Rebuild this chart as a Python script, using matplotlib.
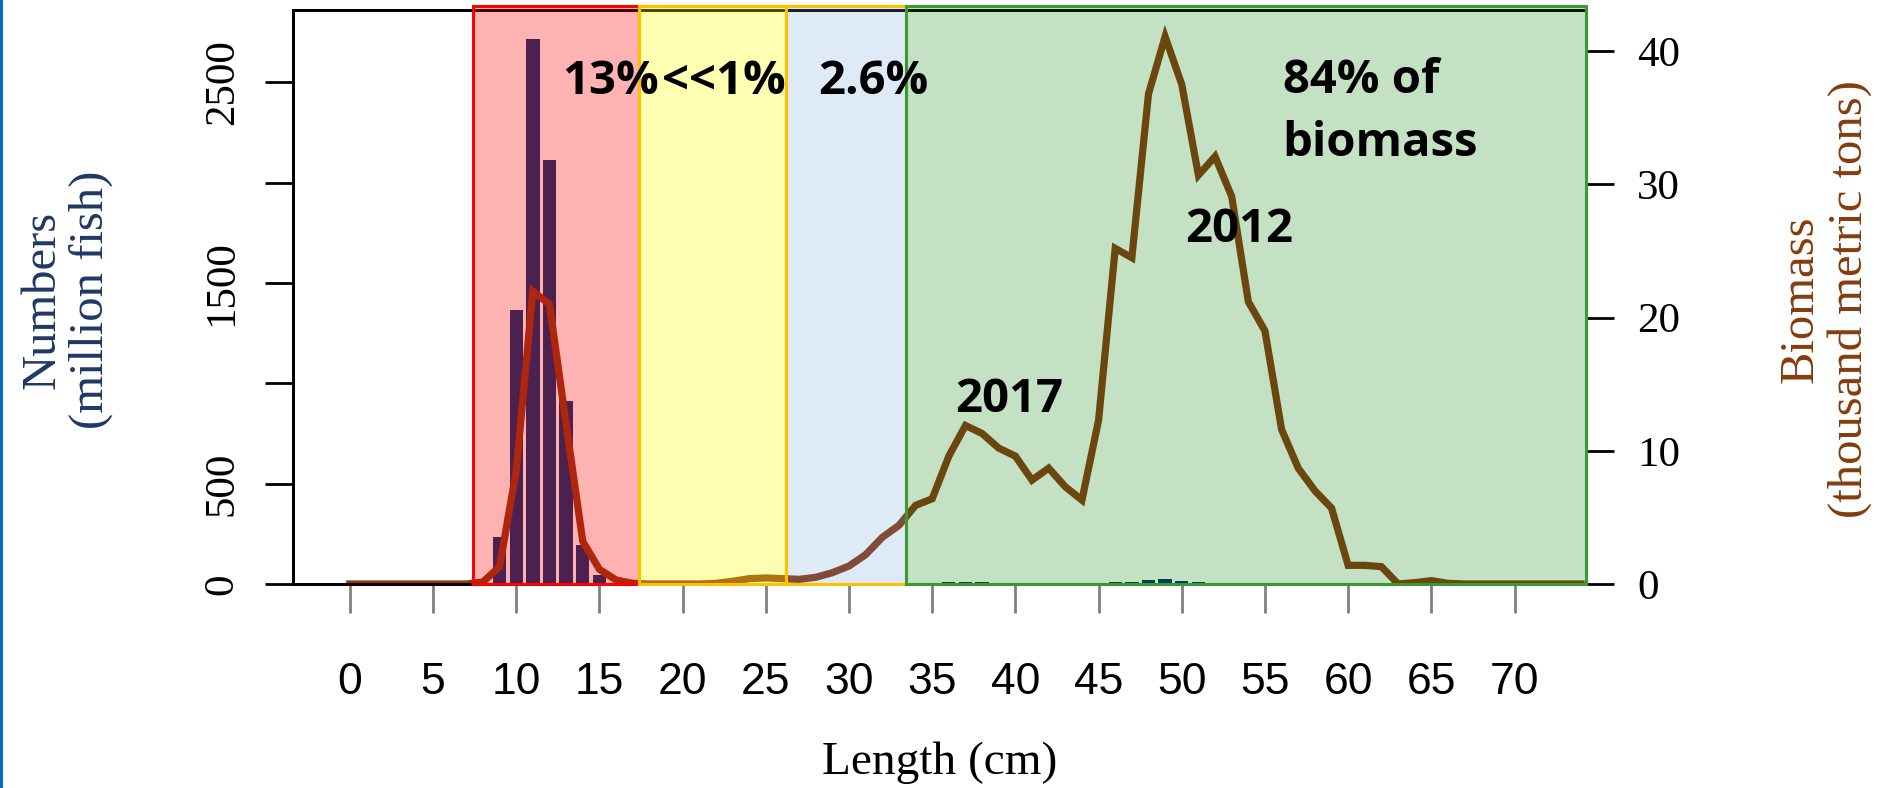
import matplotlib
matplotlib.use("Agg")
import matplotlib.pyplot as plt
from matplotlib import font_manager as fm
from matplotlib.patches import Rectangle

# ---------------- data ----------------
length_cm = list(range(0, 75))
biomass_kt = [0, 0, 0, 0, 0, 0, 0, 0, 0.15, 1.3,
              8.5, 22.0, 21.0, 12.0, 3.2, 1.1, 0.3, 0.05, 0, 0,
              0, 0, 0.05, 0.2, 0.4, 0.45, 0.4, 0.35, 0.5, 0.85,
              1.35, 2.2, 3.5, 4.4, 5.9, 6.4, 9.6, 11.9, 11.3, 10.2,
              9.6, 7.8, 8.7, 7.3, 6.3, 12.3, 25.2, 24.5, 36.8, 41.1,
              37.5, 30.7, 32.1, 29.1, 21.2, 19.0, 11.6, 8.7, 7.0, 5.7,
              1.4, 1.4, 1.3, 0.0, 0.1, 0.25, 0.05, 0, 0, 0,
              0, 0, 0, 0, 0]

bar_lengths = [9, 10, 11, 12, 13, 14, 15, 36, 37, 38, 46, 47, 48, 49, 50, 51, 52, 53]
numbers_million = [232, 1367, 2716, 2113, 913, 196, 47, 8, 12, 8, 10, 10, 22, 27, 17, 12, 7, 7]

x_ticks = list(range(0, 75, 5))
left_ticks = [0, 500, 1000, 1500, 2000, 2500]
left_tick_labels = ["0", "500", "", "1500", "", "2500"]
right_ticks = [0, 10, 20, 30, 40]

zone_edges = [7.4, 17.35, 26.2, 33.45, 74.29]
zone_face = ["#FF0000", "#FFFF00", "#5B9BD5", "#008000"]
zone_alpha = [0.30, 0.30, 0.20, 0.23]
zone_edge = ["#FF0000", "#FFC000", "#FFC000", "#3A9A32"]

# ---------------- fonts ----------------
names = {f.name for f in fm.fontManager.ttflist}
narrow = "Liberation Sans Narrow" if "Liberation Sans Narrow" in names else "Liberation Sans"
xtick_size = 35 if narrow == "Liberation Sans Narrow" else 32
serif = "Liberation Serif"
boldfont = "Open Sans"

fig = plt.figure(figsize=(18.86, 7.88), dpi=100)
ax = fig.add_axes([0.1554, 0.2589, 0.8409 - 0.1554, 0.9873 - 0.2589])
ax2 = ax.twinx()

# bars (numbers)
ax.bar(bar_lengths, numbers_million, width=0.8, color="#002F72", edgecolor="none", zorder=2)
ax.set_xlim(-3.41, 74.29)
ax.set_ylim(0, 2860)

# biomass line
ax2.plot(length_cm, biomass_kt, color="#8C3714", lw=5.2, solid_joinstyle="miter", zorder=2)
ax2.set_ylim(0, 43.1)
ax2.set_xlim(-3.41, 74.29)

# zone overlays
for i in range(4):
    ax2.axvspan(zone_edges[i], zone_edges[i + 1], ymin=0, ymax=1.007, facecolor=zone_face[i],
                alpha=zone_alpha[i], edgecolor="none", clip_on=False, zorder=5)
for i in range(4):
    ax2.axvspan(zone_edges[i], zone_edges[i + 1], ymin=0, ymax=1.007, fill=False,
                edgecolor=zone_edge[i], lw=2.2, clip_on=False, zorder=6)

# spines
for a in (ax, ax2):
    for s in a.spines.values():
        s.set_linewidth(2.0)
        s.set_color("black")

# ticks
ax.set_xticks(x_ticks)
ax.set_xticklabels([str(v) for v in x_ticks], family=narrow, fontsize=xtick_size)
ax.tick_params(axis="x", length=21, width=2, color="#808080", pad=35, direction="out")
ax.set_yticks(left_ticks)
ax.set_yticklabels(left_tick_labels, family=serif, fontsize=31, rotation=90, va="center")
ax.tick_params(axis="y", length=20, width=2, color="black", pad=17)
ax2.set_yticks(right_ticks)
ax2.set_yticklabels([str(v) for v in right_ticks], family=serif, fontsize=31)
ax2.tick_params(axis="y", length=20, width=2, color="black", pad=17)
ax2.tick_params(axis="x", which="both", length=0, labelbottom=False)

ax.set_xlabel("Length (cm)", family=serif, fontsize=34, labelpad=28)

fig.text(0.0355, 0.62, "Numbers\n(million fish)", rotation=90, ha="center", va="center",
         family=serif, fontsize=35, color="#1F3864", linespacing=1.12)
fig.text(0.9677, 0.62, "Biomass\n(thousand metric tons)", rotation=90, ha="center", va="center",
         family=serif, fontsize=35, color="#843C0C", linespacing=1.12)

# annotations
tk = dict(family=boldfont, fontweight="bold", fontsize=34, color="black", va="baseline",
          ha="left", zorder=10)
ax2.text(12.79, 36.8, "13%", **tk)
ax2.text(18.74, 36.8, "<<1%", **tk)
ax2.text(28.15, 36.8, "2.6%", **tk)
ax2.text(56.06, 36.9, "84% of", **tk)
ax2.text(56.06, 32.1, "biomass", **tk)
ax2.text(50.19, 25.7, "2012", **tk)
ax2.text(36.37, 12.9, "2017", **tk)

# blue stripe at the left edge of the slide
fig.patches.append(Rectangle((0, 0), 3 / 1886, 1, transform=fig.transFigure,
                             facecolor="#0070C0", edgecolor="none"))

fig.savefig("out.png", dpi=100)
